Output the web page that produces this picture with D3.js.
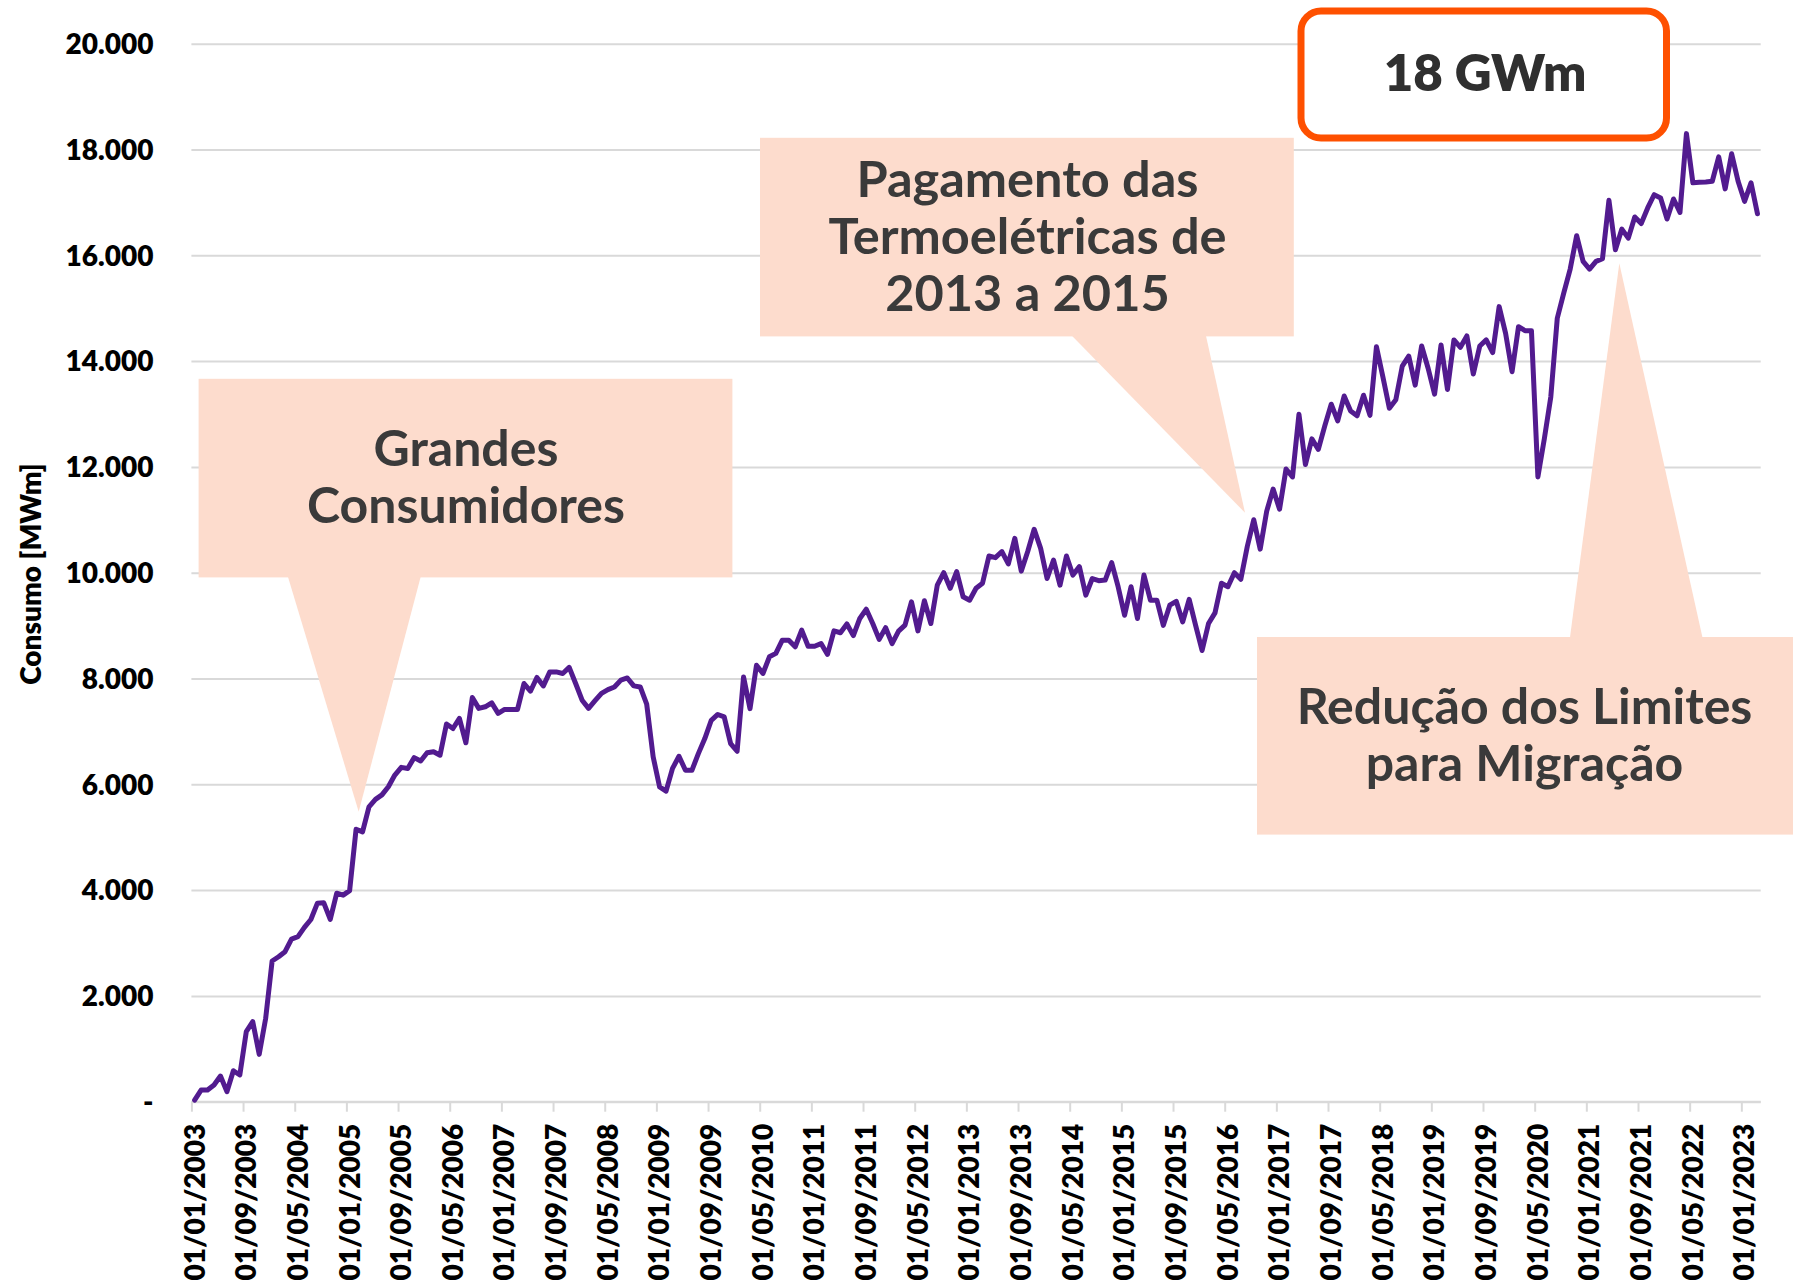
<!DOCTYPE html>
<html><head><meta charset="utf-8">
<script src="https://cdn.jsdelivr.net/npm/d3@7/dist/d3.min.js"></script>
<style>
html,body{margin:0;padding:0;background:#fff;}
svg{display:block;}
</style></head><body>
<svg id="chart" width="1800" height="1286"></svg>
<script>
// ---------- DATA ----------
const firstMonth = "2003-01";           // monthly series, Jan 2003 .. Mar 2023
const consumo = [
  30,220,220,315,485,190,585,505,1323,1512,895,1575,
  2660,2740,2835,3075,3120,3295,3445,3750,3760,3445,3940,3905,
  3990,5150,5100,5575,5715,5800,5955,6175,6320,6300,6505,6440,
  6595,6615,6550,7140,7055,7245,6785,7640,7435,7465,7540,7340,
  7415,7415,7415,7905,7760,8020,7860,8125,8125,8095,8210,7905,
  7590,7435,7580,7720,7790,7840,7970,8010,7860,7840,7515,6520,
  5950,5870,6300,6530,6265,6265,6580,6865,7210,7320,7275,6770,
  6625,8030,7430,8250,8095,8410,8475,8725,8725,8600,8915,8610,
  8610,8660,8455,8900,8865,9030,8810,9135,9310,9040,8740,8960,
  8660,8895,9010,9450,8900,9470,9040,9765,10000,9705,10020,9545,
  9480,9705,9800,10315,10285,10400,10165,10650,10030,10400,10820,10460,
  9890,10240,9765,10315,9955,10115,9575,9890,9850,9860,10190,9735,
  9195,9735,9135,9955,9480,9480,9005,9385,9460,9070,9495,9005,
  8530,9040,9240,9800,9735,10000,9875,10495,11000,10445,11160,11580,
  11200,11960,11810,12995,12045,12530,12330,12775,13185,12870,13340,13055,
  12965,13355,12975,14270,13700,13110,13270,13905,14095,13545,14285,13865,
  13375,14305,13465,14400,14260,14475,13755,14285,14400,14160,15030,14525,
  13800,14650,14575,14575,11810,12535,13325,14810,15285,15740,16370,15885,
  15740,15885,15935,17040,16105,16495,16325,16725,16600,16895,17145,17085,
  16685,17065,16810,18300,17370,17380,17385,17400,17860,17255,17920,17400,
  17020,17370,16785
];
const xTickLabels = [
  "01/01/2003","01/09/2003","01/05/2004","01/01/2005","01/09/2005","01/05/2006",
  "01/01/2007","01/09/2007","01/05/2008","01/01/2009","01/09/2009","01/05/2010",
  "01/01/2011","01/09/2011","01/05/2012","01/01/2013","01/09/2013","01/05/2014",
  "01/01/2015","01/09/2015","01/05/2016","01/01/2017","01/09/2017","01/05/2018",
  "01/01/2019","01/09/2019","01/05/2020","01/01/2021","01/09/2021","01/05/2022",
  "01/01/2023"
];
const xTickStep = 8;                    // months between labels
const yTickValues = [0,2000,4000,6000,8000,10000,12000,14000,16000,18000,20000];
const yTickLabels = ["-","2.000","4.000","6.000","8.000","10.000","12.000","14.000","16.000","18.000","20.000"];
const yAxisTitle = "Consumo [MWm]";
const calloutTexts = [
  ["Grandes","Consumidores"],
  ["Pagamento das","Termoelétricas de","2013 a 2015"],
  ["Redução dos Limites","para Migração"]
];
const highlightLabel = "18 GWm";

// ---------- LAYOUT ----------
const svg = d3.select("#chart");
const plotL = 191.4, plotR = 1760.7, plotT = 43.7, plotB = 1101.7;
const nMonths = consumo.length;          // 243 slots
const x = d3.scaleLinear().domain([0, nMonths]).range([plotL, plotR]);
const y = d3.scaleLinear().domain([0, 20000]).range([plotB, plotT]);

const FONT = "Lato, 'Open Sans', sans-serif";
const gridColor = "#d9d9d9";
const pink = "#fddccd";
const textDark = "#3a3a3a";

// gridlines via axis
const yAxis = d3.axisLeft(y).tickValues(yTickValues)
  .tickSize(-(plotR - plotL)).tickFormat((d,i) => yTickLabels[i]);
const gy = svg.append("g").attr("transform", `translate(${plotL},0)`).call(yAxis);
gy.select(".domain").remove();
gy.selectAll(".tick line").attr("stroke", gridColor).attr("stroke-width", 2);
gy.selectAll(".tick text").attr("x", -38).attr("dy", "0.35em")
  .style("font-family", FONT).style("font-weight", 800).style("font-size", "28px")
  .attr("fill", "#000").attr("text-anchor", "end");

// x axis
const xTickVals = xTickLabels.map((d,i) => i * xTickStep);
const xAxis = d3.axisBottom(x).tickValues(xTickVals).tickSize(10)
  .tickFormat((d,i) => xTickLabels[i]);
const gx = svg.append("g").attr("transform", `translate(0,${plotB})`).call(xAxis);
gx.select(".domain").attr("stroke", gridColor).attr("stroke-width", 2)
  .attr("d", `M${plotL},0H${plotR}`);
gx.selectAll(".tick line").attr("stroke", gridColor).attr("stroke-width", 2);
gx.selectAll(".tick text")
  .style("font-family", FONT).style("font-weight", 800).style("font-size", "28px")
  .attr("fill", "#000")
  .attr("text-anchor", "end")
  .attr("transform", "rotate(-90)")
  .attr("x", -22).attr("y", 0).attr("dy", "0.45em");

// y axis title
svg.append("text")
  .attr("transform", "translate(31,574) rotate(-90)")
  .attr("text-anchor", "middle").attr("dy", "0.35em")
  .style("font-family", FONT).style("font-weight", 800).style("font-size", "28px")
  .attr("fill", "#000").text(yAxisTitle);

// ---------- CALLOUTS ----------
function callout(box, tri, lines, cx, cy0, lh, fs) {
  const g = svg.append("g");
  g.append("rect").attr("x", box[0]).attr("y", box[1])
    .attr("width", box[2] - box[0]).attr("height", box[3] - box[1]).attr("fill", pink);
  g.append("path").attr("d", d3.line()(tri) + "Z").attr("fill", pink);
  g.selectAll("text").data(lines).join("text")
    .attr("x", cx).attr("y", (d,i) => cy0 + i * lh).attr("dy", "0.35em")
    .attr("text-anchor", "middle")
    .style("font-family", FONT).style("font-weight", 700).style("font-size", fs + "px")
    .attr("fill", textDark).text(d => d);
}
callout([198.6, 378.8, 732.4, 577.4],
        [[287.7, 576], [420.9, 576], [358.7, 811.7]],
        calloutTexts[0], 466, 448, 57.4, 50);
callout([760, 137.8, 1293.8, 336.4],
        [[1071.2, 335], [1205.8, 335], [1245, 512.7]],
        calloutTexts[1], 1027.5, 179, 57.4, 50.5);
callout([1257, 637, 1793, 834.6],
        [[1569.9, 638], [1702.6, 638], [1619.3, 263.3]],
        calloutTexts[2], 1524.5, 706, 57.4, 50);

// 18 GWm box
svg.append("rect").attr("x", 1301).attr("y", 11).attr("width", 365.5).attr("height", 127)
  .attr("rx", 20).attr("ry", 20)
  .attr("fill", "#fff").attr("stroke", "#fe5000").attr("stroke-width", 7);
svg.append("text").attr("x", 1485).attr("y", 73.5).attr("dy", "0.35em")
  .attr("text-anchor", "middle")
  .style("font-family", FONT).style("font-weight", 800).style("font-size", "51px")
  .attr("fill", "#2f2f2f").text(highlightLabel);

// ---------- LINE ----------
const line = d3.line().x((d,i) => x(i + 0.5)).y(d => y(d));
svg.append("path").datum(consumo)
  .attr("d", line).attr("fill", "none")
  .attr("stroke", "#521b8f").attr("stroke-width", 5)
  .attr("stroke-linejoin", "round").attr("stroke-linecap", "round");
</script>
</body></html>
